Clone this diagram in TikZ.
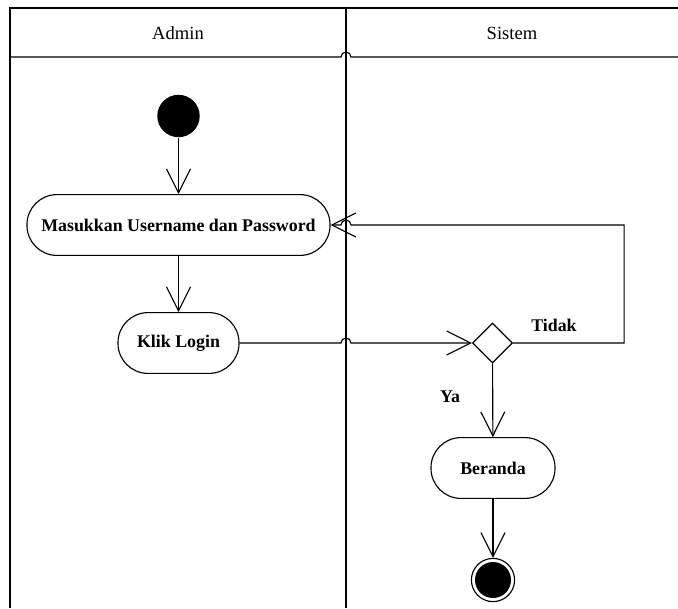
\documentclass[tikz,border=0pt]{standalone}
\usepackage{fontspec}
\setmainfont{Liberation Serif}
\usetikzlibrary{arrows.meta,shapes.geometric,calc}
\begin{document}
\begin{tikzpicture}[x=0.025cm, y=0.025cm, line width=0.8pt,
    act/.style={draw, rounded corners=0.75cm, minimum height=1.52cm, font=\fontsize{12.7}{15}\selectfont\bfseries},
    flow/.style={-{Straight Barb[length=0.6cm, width=0.6cm, line width=0.8pt]}},
    lbl/.style={font=\fontsize{12.7}{15}\selectfont\bfseries}]
\useasboundingbox (0, 0) rectangle (678, -608);
% swimlanes
\draw (10, -608) -- (10, -8) -- (678, -8);
\draw (346, -608) -- (346, -8);
\draw (10, -57) -- (341, -57) arc[start angle=180, end angle=0, radius=5] -- (678, -57);
\node[font=\fontsize{13.2}{15}\selectfont] (admin) at (178, -33) {Admin};
\node[font=\fontsize{13.2}{15}\selectfont] (sistem) at (512, -33) {Sistem};
\coordinate (lane) at (346, 0);
% nodes
\node[circle, fill, minimum size=1.06cm, inner sep=0] (start) at (178.5, -116) {};
\node[act, minimum width=7.575cm] (masuk) at (178.5, -225) {Masukkan Username dan Password};
\node[act, minimum width=3.025cm] (klik) at (178.5, -343) {Klik Login};
\node[diamond, draw, aspect=1, minimum size=1cm, inner sep=0] (cek) at (492.5, -343) {};
\node[act, minimum width=3.1cm] (beranda) at (493, -468) {Beranda};
\node[circle, draw, minimum size=1.08cm, inner sep=0,
    path picture={\fill (path picture bounding box.center) circle (0.45cm);}] (stop) at (493, -580) {};
\node[lbl] (tidak) at (554, -325) {Tidak};
\node[lbl] (ya) at (450, -397) {Ya};
% flows
\draw[flow] (start) -- (masuk);
\draw[flow] (masuk) -- (klik);
\draw[flow] (klik.east) -- ($(klik.east -| lane)+(-5, 0)$) arc[start angle=180, end angle=0, radius=5] -- (cek.west);
\draw[flow] (cek.east) -- ++(111, 0) |- ($(masuk.east -| lane)+(5, 0)$) arc[start angle=0, end angle=180, radius=5] -- (masuk.east);
\draw[flow] (cek) -- (beranda);
\draw[flow] (beranda) -- (stop);
\end{tikzpicture}
\end{document}
